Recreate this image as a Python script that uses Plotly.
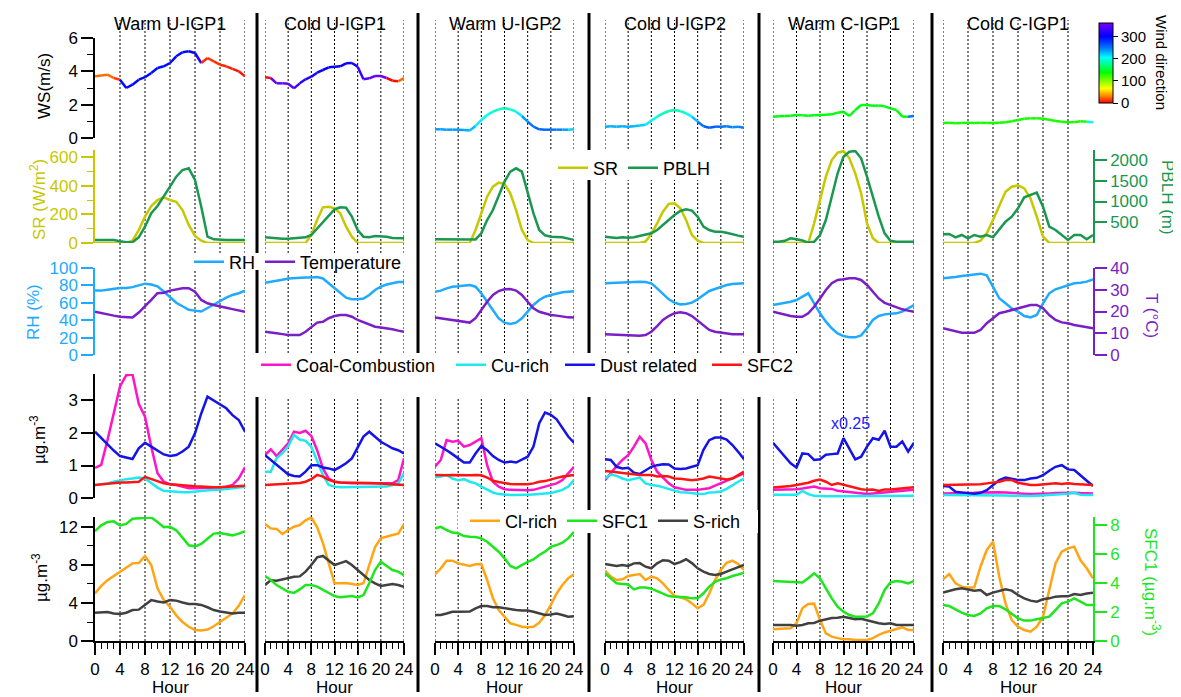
import plotly.graph_objects as go

# The page is photographed in a 1181x697 window; the figure div sits 8px in
# from the top-left (default body margin), so it is sized to fill the rest.
WIN_W, WIN_H, OFF = 1181, 697, 8
W, H = WIN_W - OFF, WIN_H - OFF

# ---------------- data ----------------
hours = list(range(25))
regions = ["Warm U-IGP1", "Cold U-IGP1", "Warm U-IGP2", "Cold U-IGP2", "Warm C-IGP1", "Cold C-IGP1"]
x_ticks = [0, 4, 8, 12, 16, 20, 24]

ws = [
    [3.7, 3.75, 3.8, 3.6, 3.5, 3.0, 3.2, 3.5, 3.65, 3.9, 4.2, 4.3, 4.5, 4.9, 5.15, 5.2, 5.1, 4.5, 4.8, 4.6, 4.4, 4.3, 4.15, 4.0, 3.7],
    [3.64, 3.6, 3.28, 3.28, 3.25, 2.98, 3.28, 3.52, 3.68, 3.92, 4.08, 4.24, 4.28, 4.3, 4.48, 4.5, 4.28, 3.52, 3.58, 3.72, 3.72, 3.6, 3.44, 3.4, 3.6],
    [0.52, 0.52, 0.5, 0.5, 0.5, 0.48, 0.45, 0.72, 1.08, 1.38, 1.58, 1.72, 1.78, 1.72, 1.58, 1.32, 0.98, 0.68, 0.52, 0.5, 0.5, 0.5, 0.5, 0.5, 0.52],
    [0.68, 0.7, 0.68, 0.7, 0.68, 0.7, 0.75, 0.8, 1.04, 1.28, 1.48, 1.62, 1.68, 1.62, 1.48, 1.28, 0.98, 0.7, 0.62, 0.68, 0.68, 0.7, 0.64, 0.68, 0.62],
    [1.28, 1.3, 1.32, 1.33, 1.38, 1.36, 1.33, 1.36, 1.38, 1.4, 1.42, 1.52, 1.58, 1.32, 1.68, 1.98, 1.98, 1.93, 1.95, 1.9, 1.78, 1.68, 1.28, 1.28, 1.32],
    [0.9, 0.92, 0.88, 0.9, 0.92, 0.9, 0.92, 0.9, 0.9, 0.92, 0.95, 1.0, 1.08, 1.15, 1.18, 1.18, 1.15, 1.1, 1.02, 0.98, 0.95, 0.95, 1.0, 0.98, 0.95],
]
wdir = [
    [25, 25, 25, 15, 295, 295, 295, 295, 295, 295, 295, 295, 295, 295, 295, 300, 315, 10, 12, 12, 10, 8, 5, 5, 5],
    [3, 350, 350, 350, 345, 330, 320, 315, 310, 305, 300, 300, 300, 300, 305, 310, 330, 345, 350, 350, 352, 0, 2, 25, 25],
    [235, 235, 235, 235, 235, 230, 225, 210, 200, 195, 190, 190, 190, 195, 210, 235, 250, 255, 255, 255, 250, 245, 235, 220, 205],
    [230, 230, 230, 230, 230, 225, 220, 210, 200, 190, 185, 185, 185, 190, 200, 225, 250, 260, 260, 255, 250, 245, 240, 245, 250],
    [140, 140, 140, 140, 140, 140, 140, 140, 140, 140, 140, 140, 140, 140, 140, 140, 140, 140, 140, 140, 140, 140, 140, 250, 250],
    [130, 130, 130, 130, 130, 130, 130, 130, 130, 130, 130, 130, 130, 130, 130, 130, 130, 130, 130, 130, 130, 130, 130, 200, 200],
]
sr = [
    [0, 0, 0, 0, 0, 0, 16, 90, 184, 258, 300, 319, 300, 288, 230, 126, 49, 16, 0, 0, 0, 0, 0, 0, 0],
    [0, 0, 0, 0, 0, 0, 0, 0, 56, 160, 249, 253, 242, 207, 114, 44, 0, 0, 0, 0, 0, 0, 0, 0, 0],
    [0, 0, 0, 0, 0, 0, 0, 91, 207, 323, 393, 421, 412, 347, 230, 91, 21, 0, 0, 0, 0, 0, 0, 0, 0],
    [0, 0, 0, 0, 0, 0, 0, 10, 63, 137, 218, 272, 277, 242, 160, 56, 16, 0, 0, 0, 0, 0, 0, 0, 0],
    [0, 0, 0, 0, 0, 0, 0, 137, 300, 463, 579, 630, 642, 591, 486, 347, 137, 33, 0, 0, 0, 0, 0, 0, 0],
    [0, 0, 0, 0, 0, 0, 16, 67, 160, 265, 358, 393, 402, 381, 312, 184, 44, 0, 0, 0, 0, 0, 0, 0, 0],
]
pblh = [
    [72, 72, 72, 72, 40, 20, 20, 137, 393, 716, 892, 1116, 1357, 1598, 1759, 1800, 1518, 875, 152, 89, 72, 72, 72, 72, 72],
    [137, 125, 100, 100, 105, 110, 115, 137, 193, 354, 514, 675, 812, 860, 848, 634, 313, 152, 137, 169, 169, 152, 121, 113, 113],
    [89, 89, 85, 80, 80, 75, 72, 85, 233, 554, 795, 1116, 1478, 1719, 1800, 1719, 1197, 716, 313, 185, 152, 152, 137, 105, 72],
    [152, 140, 121, 137, 125, 137, 169, 185, 233, 313, 434, 554, 675, 771, 812, 780, 634, 393, 313, 273, 273, 249, 209, 177, 152],
    [31, 31, 53, 113, 90, 60, 10, 31, 193, 554, 1116, 1679, 2080, 2200, 2217, 2041, 1598, 1116, 634, 233, 53, 31, 31, 31, 31],
    [209, 217, 137, 193, 113, 193, 152, 193, 137, 313, 514, 634, 836, 1101, 1157, 1213, 875, 393, 313, 193, 72, 193, 193, 89, 193],
]
rh = [
    [74, 74, 75, 76, 77, 77, 78, 80, 82, 81, 79, 73, 67, 60, 56, 52, 51, 50, 54, 58, 62, 66, 69, 71, 74],
    [83, 84, 85.4, 86.5, 88, 88.5, 89, 89, 89, 89.6, 88, 82.4, 76.6, 70.9, 65.9, 64, 64, 65, 69, 74.7, 78.5, 81, 82.4, 84, 84],
    [72.8, 74, 76.6, 78.5, 79, 79.5, 80.5, 78.5, 70.9, 61.3, 51.7, 42.1, 37.2, 35.6, 37.2, 42.1, 49.8, 57.5, 63.2, 67, 69, 70.9, 72, 72.6, 73.3],
    [82.4, 82.8, 83.2, 83.8, 84.3, 84.3, 84.3, 84, 82.4, 76.6, 70.1, 64, 60.2, 58.2, 58.6, 60.2, 64, 69, 73.6, 75.9, 78.5, 80.5, 81.6, 82.4, 82.4],
    [57.5, 58.6, 60.2, 61.3, 63.2, 67, 70.9, 59.4, 47.9, 38.3, 30.7, 24.9, 21.8, 20.3, 20.3, 22.6, 30.7, 40.2, 44.8, 46.7, 47.1, 47.9, 49.8, 53.6, 57.5],
    [88.1, 89.3, 89.7, 90.8, 91.6, 92.7, 93.5, 91.6, 78.5, 65.2, 59.4, 53.6, 49.8, 44.8, 43.3, 46, 59.4, 70.9, 75.5, 77.8, 80.5, 82.4, 83.1, 84.3, 87],
]
temp = [
    [19.9, 19.2, 18.6, 18.1, 17.6, 17.3, 17.2, 19.5, 22.2, 25.3, 28.4, 28.6, 29.6, 30.2, 30.7, 30.7, 29.1, 25.3, 23.8, 23, 22.2, 21.7, 21.1, 20.4, 19.9],
    [10.7, 10.5, 10, 9.6, 9.2, 9.2, 9.2, 10.7, 13, 14.9, 15.3, 16.9, 17.9, 18.4, 18.4, 17.6, 16.1, 15, 13.8, 13, 12.6, 12.3, 11.8, 11.2, 10.7],
    [17.2, 16.8, 16.4, 16.1, 15.8, 15.3, 14.9, 16.9, 20.7, 24.5, 27.6, 29.4, 30.2, 30.3, 29.6, 27.6, 24.5, 21.5, 19.9, 19.2, 18.4, 18.1, 17.6, 17.3, 17.2],
    [9.5, 9.4, 9.2, 9.0, 8.9, 8.9, 8.9, 9.2, 10.7, 13.3, 16.1, 17.9, 19.2, 19.6, 19.2, 17.9, 15.8, 13.3, 11.5, 10.7, 10.2, 9.8, 9.5, 9.5, 9.5],
    [19.9, 19.2, 18.4, 17.9, 17.6, 17.6, 19.2, 22.2, 26, 29.9, 33, 34.5, 34.8, 35.3, 35.3, 34.5, 32.2, 29.1, 26, 24, 23, 21.9, 21, 20.4, 19.9],
    [12.3, 11.5, 10.7, 10.2, 10.2, 10.2, 11.5, 14.6, 16.9, 19.2, 19.9, 20.7, 21.5, 22.5, 23, 23, 21.5, 18.4, 16.1, 15, 14.6, 13.8, 13.3, 12.7, 12.3],
]
coal = [
    [0.93, 1.02, 1.78, 2.6, 3.43, 3.78, 3.8, 2.9, 2.5, 1.58, 0.76, 0.5, 0.42, 0.4, 0.35, 0.3, 0.3, 0.3, 0.3, 0.3, 0.32, 0.35, 0.4, 0.6, 0.95],
    [1.32, 1.5, 1.29, 1.47, 1.68, 2.04, 2.0, 2.07, 1.91, 1.47, 0.91, 0.6, 0.5, 0.48, 0.46, 0.45, 0.45, 0.45, 0.45, 0.44, 0.44, 0.44, 0.45, 0.55, 1.22],
    [0.96, 1.17, 1.78, 1.73, 1.76, 1.58, 1.63, 1.73, 1.84, 1.01, 0.5, 0.35, 0.27, 0.25, 0.24, 0.24, 0.24, 0.25, 0.3, 0.35, 0.4, 0.45, 0.55, 0.76, 0.96],
    [0.55, 0.78, 0.98, 1.17, 1.32, 1.58, 1.89, 1.68, 1.17, 0.81, 0.63, 0.45, 0.33, 0.28, 0.25, 0.25, 0.25, 0.28, 0.3, 0.38, 0.45, 0.53, 0.6, 0.68, 0.76],
    [0.25, 0.25, 0.25, 0.26, 0.27, 0.29, 0.32, 0.35, 0.3, 0.28, 0.28, 0.22, 0.2, 0.16, 0.14, 0.13, 0.12, 0.14, 0.16, 0.18, 0.2, 0.21, 0.23, 0.24, 0.25],
    [0.14, 0.14, 0.14, 0.14, 0.15, 0.16, 0.17, 0.18, 0.19, 0.18, 0.17, 0.15, 0.13, 0.13, 0.12, 0.12, 0.13, 0.14, 0.15, 0.16, 0.17, 0.16, 0.15, 0.14, 0.14],
]
cu = [
    [0.4, 0.42, 0.45, 0.5, 0.55, 0.58, 0.6, 0.63, 0.6, 0.45, 0.32, 0.22, 0.2, 0.18, 0.18, 0.18, 0.2, 0.22, 0.22, 0.25, 0.25, 0.28, 0.3, 0.32, 0.35],
    [0.81, 0.81, 1.22, 1.38, 1.58, 1.94, 1.8, 1.76, 1.58, 1.17, 0.71, 0.4, 0.35, 0.33, 0.33, 0.33, 0.33, 0.33, 0.33, 0.33, 0.33, 0.35, 0.4, 0.45, 0.76],
    [0.64, 0.66, 0.71, 0.6, 0.55, 0.58, 0.5, 0.45, 0.35, 0.25, 0.17, 0.12, 0.1, 0.09, 0.09, 0.09, 0.1, 0.11, 0.12, 0.13, 0.15, 0.2, 0.25, 0.35, 0.55],
    [0.6, 0.72, 0.68, 0.6, 0.55, 0.58, 0.63, 0.45, 0.4, 0.38, 0.33, 0.28, 0.23, 0.18, 0.17, 0.14, 0.13, 0.12, 0.17, 0.18, 0.2, 0.28, 0.4, 0.5, 0.6],
    [0.1, 0.1, 0.1, 0.1, 0.1, 0.22, 0.12, 0.07, 0.05, 0.05, 0.05, 0.05, 0.05, 0.05, 0.05, 0.05, 0.05, 0.05, 0.05, 0.06, 0.06, 0.06, 0.07, 0.07, 0.07],
    [0.09, 0.09, 0.09, 0.09, 0.09, 0.09, 0.1, 0.1, 0.1, 0.09, 0.08, 0.07, 0.06, 0.06, 0.06, 0.07, 0.08, 0.09, 0.1, 0.11, 0.13, 0.16, 0.1, 0.09, 0.09],
]
# Warm C-IGP1 dust values are shown scaled x0.25 (as in the figure)
dust = [
    [2.04, 1.84, 1.66, 1.46, 1.29, 1.25, 1.2, 1.53, 1.7, 1.58, 1.45, 1.34, 1.29, 1.32, 1.43, 1.58, 1.99, 2.6, 3.12, 3.0, 2.86, 2.76, 2.55, 2.4, 2.04],
    [1.32, 1.17, 1.01, 0.86, 0.73, 0.68, 0.66, 0.81, 1.01, 1.01, 0.94, 0.91, 0.86, 0.96, 1.07, 1.22, 1.58, 1.89, 2.04, 1.89, 1.73, 1.63, 1.53, 1.47, 1.37],
    [1.68, 1.58, 1.47, 1.35, 1.22, 1.09, 1.09, 1.37, 1.6, 1.47, 1.29, 1.17, 1.09, 1.12, 1.09, 1.17, 1.27, 1.58, 2.3, 2.63, 2.56, 2.42, 2.14, 1.89, 1.7],
    [1.19, 1.17, 0.96, 0.91, 0.93, 0.78, 0.74, 0.84, 0.96, 1.01, 1.04, 1.03, 0.91, 0.89, 0.91, 0.96, 1.01, 1.48, 1.78, 1.86, 1.86, 1.8, 1.63, 1.42, 1.19],
    [1.7, 1.5, 1.27, 1.07, 0.94, 1.37, 1.35, 1.17, 1.19, 1.33, 1.35, 1.37, 1.84, 1.53, 1.19, 1.27, 1.58, 1.84, 1.79, 2.07, 1.58, 1.58, 1.74, 1.43, 1.7],
    [0.37, 0.35, 0.19, 0.16, 0.15, 0.13, 0.16, 0.24, 0.4, 0.55, 0.63, 0.6, 0.55, 0.55, 0.6, 0.62, 0.7, 0.84, 0.96, 1.01, 0.88, 0.86, 0.68, 0.53, 0.37],
]
sfc2 = [
    [0.4, 0.42, 0.45, 0.46, 0.48, 0.48, 0.5, 0.5, 0.65, 0.58, 0.5, 0.45, 0.42, 0.4, 0.38, 0.37, 0.36, 0.35, 0.33, 0.33, 0.33, 0.34, 0.35, 0.36, 0.38],
    [0.4, 0.41, 0.42, 0.43, 0.45, 0.45, 0.46, 0.5, 0.58, 0.71, 0.66, 0.56, 0.5, 0.48, 0.48, 0.47, 0.47, 0.46, 0.46, 0.45, 0.44, 0.43, 0.42, 0.4, 0.4],
    [0.71, 0.7, 0.7, 0.71, 0.7, 0.69, 0.7, 0.71, 0.7, 0.63, 0.53, 0.49, 0.45, 0.43, 0.42, 0.42, 0.42, 0.45, 0.5, 0.52, 0.58, 0.62, 0.66, 0.69, 0.71],
    [0.83, 0.82, 0.79, 0.77, 0.74, 0.73, 0.71, 0.7, 0.71, 0.66, 0.68, 0.66, 0.6, 0.59, 0.57, 0.55, 0.57, 0.6, 0.66, 0.63, 0.6, 0.57, 0.6, 0.7, 0.81],
    [0.32, 0.33, 0.35, 0.37, 0.4, 0.43, 0.47, 0.53, 0.57, 0.5, 0.4, 0.45, 0.4, 0.35, 0.3, 0.27, 0.25, 0.26, 0.22, 0.26, 0.26, 0.28, 0.29, 0.3, 0.33],
    [0.4, 0.4, 0.4, 0.41, 0.42, 0.42, 0.42, 0.45, 0.47, 0.5, 0.55, 0.55, 0.47, 0.43, 0.4, 0.4, 0.42, 0.42, 0.45, 0.43, 0.45, 0.43, 0.42, 0.4, 0.4],
]
cl = [
    [5.0, 5.8, 6.4, 6.84, 7.3, 7.75, 8.17, 8.2, 8.95, 8.0, 5.55, 4.3, 3.6, 2.7, 2.0, 1.5, 1.16, 1.1, 1.2, 1.55, 2.0, 2.4, 2.9, 3.7, 4.84],
    [12.3, 11.85, 11.8, 11.26, 11.68, 12.03, 12.2, 12.7, 13.0, 12.0, 10.3, 8.2, 6.07, 6.07, 6.1, 6.0, 5.9, 6.07, 8.0, 9.9, 10.8, 11.0, 11.16, 11.3, 12.3],
    [7.02, 7.65, 8.45, 8.45, 8.17, 8.0, 7.9, 8.07, 8.1, 6.42, 4.5, 3.26, 2.56, 1.86, 1.7, 1.5, 1.45, 1.5, 1.93, 2.74, 3.8, 5.0, 5.9, 6.6, 7.02],
    [7.4, 6.77, 6.42, 6.5, 6.84, 6.95, 7.05, 6.42, 6.77, 6.6, 6.07, 5.37, 4.74, 4.6, 4.4, 3.96, 3.44, 3.8, 5.0, 6.42, 7.47, 8.24, 8.45, 8.1, 7.47],
    [1.23, 1.3, 1.32, 1.35, 1.86, 3.44, 3.9, 3.93, 2.2, 0.8, 0.46, 0.3, 0.18, 0.18, 0.1, 0.1, 0.1, 0.3, 0.65, 0.9, 1.1, 1.25, 1.45, 1.17, 1.17],
    [6.49, 7.05, 6.07, 5.72, 5.6, 5.65, 7.82, 9.58, 10.45, 6.77, 3.96, 2.2, 1.5, 1.16, 0.98, 1.5, 2.56, 5.37, 8.17, 9.4, 9.75, 9.93, 8.5, 7.65, 6.6],
]
sfc1 = [
    [7.6, 8.0, 8.23, 8.28, 8.0, 8.1, 8.46, 8.5, 8.55, 8.55, 8.23, 7.88, 7.9, 7.66, 7.15, 6.62, 6.55, 6.71, 7.08, 7.43, 7.47, 7.38, 7.31, 7.43, 7.6],
    [4.5, 4.22, 3.87, 3.64, 3.41, 3.33, 3.57, 3.87, 3.87, 3.76, 3.53, 3.3, 3.11, 3.02, 3.06, 3.11, 3.02, 3.18, 3.99, 4.91, 5.48, 5.18, 4.91, 4.8, 4.56],
    [7.79, 7.9, 7.68, 7.5, 7.45, 7.26, 7.22, 7.2, 7.1, 6.87, 6.52, 6.18, 5.72, 5.19, 5.03, 5.26, 5.48, 5.64, 5.95, 6.18, 6.52, 6.64, 6.8, 7.1, 7.56],
    [4.68, 4.34, 3.99, 3.95, 3.91, 3.57, 3.7, 3.7, 3.62, 3.45, 3.3, 3.11, 3.06, 3.06, 3.02, 2.95, 2.95, 3.3, 3.76, 4.1, 4.26, 4.34, 4.5, 4.6, 4.72],
    [4.15, 4.13, 4.12, 4.1, 4.1, 4.05, 4.34, 4.68, 4.34, 3.64, 2.95, 2.37, 2.03, 1.8, 1.68, 1.68, 1.7, 1.91, 2.6, 3.53, 4.06, 4.15, 4.1, 3.99, 4.15],
    [2.49, 2.42, 2.19, 1.96, 1.8, 1.73, 1.91, 2.26, 2.42, 2.42, 2.19, 1.91, 1.57, 1.41, 1.41, 1.5, 1.57, 1.68, 2.14, 2.61, 2.72, 2.95, 2.72, 2.49, 2.49],
]
srich = [
    [2.98, 2.98, 3.05, 2.9, 2.85, 2.98, 3.26, 3.3, 3.8, 4.3, 4.15, 4.05, 4.3, 4.25, 4.05, 3.9, 3.9, 3.8, 3.55, 3.26, 3.1, 2.98, 2.9, 2.98, 2.98],
    [5.9, 6.4, 6.35, 6.5, 6.6, 6.77, 6.8, 7.3, 8.0, 8.8, 8.95, 8.5, 8.0, 8.2, 8.4, 8.0, 7.47, 6.95, 6.42, 6.07, 5.8, 5.9, 6.0, 5.9, 5.7],
    [2.74, 2.74, 2.9, 3.08, 3.08, 3.08, 3.1, 3.44, 3.68, 3.68, 3.55, 3.55, 3.44, 3.35, 3.26, 3.2, 3.2, 3.08, 2.9, 2.74, 2.8, 2.9, 2.74, 2.56, 2.6],
    [8.1, 8.0, 7.9, 8.0, 7.9, 8.17, 8.2, 7.82, 7.65, 8.17, 8.5, 8.45, 8.1, 8.3, 8.6, 8.2, 7.65, 7.3, 7.05, 6.95, 7.05, 7.3, 7.55, 7.75, 8.0],
    [1.68, 1.68, 1.68, 1.68, 1.6, 1.68, 1.86, 1.9, 2.14, 2.28, 2.42, 2.45, 2.56, 2.42, 2.28, 2.35, 2.2, 2.03, 1.86, 1.8, 1.86, 1.68, 1.68, 1.68, 1.68],
    [5.09, 5.3, 5.44, 5.54, 5.44, 5.3, 5.37, 4.84, 5.09, 5.3, 5.44, 5.3, 4.84, 4.49, 4.25, 4.14, 4.39, 4.49, 4.67, 4.7, 4.7, 4.95, 4.84, 5.0, 5.09],
]

# ---------------- styling ----------------
FONT = "Liberation Sans, Arial, sans-serif"
SR_C, PBLH_C, RH_C, T_C = "#c8c800", "#1a9850", "#1eaaff", "#7a1ec8"
COAL_C, CU_C, DUST_C, SFC2_C = "#ff14c8", "#1ee8f0", "#1414e6", "#ff1414"
CL_C, SFC1_C, S_C = "#ffa514", "#1ee61e", "#404040"
LW = 2.5

WD_STOPS = [(0.0, (255, 0, 0)), (0.085, (255, 128, 0)), (0.18, (255, 255, 0)), (0.38, (0, 255, 0)),
            (0.57, (0, 255, 255)), (0.68, (0, 128, 255)), (0.83, (0, 0, 255)), (1.0, (120, 0, 255))]
WD_SCALE = [[s, "rgb(%d,%d,%d)" % c] for s, c in WD_STOPS]


def wd_color(d):
    t = max(0.0, min(1.0, d / 360.0))
    for (s0, c0), (s1, c1) in zip(WD_STOPS[:-1], WD_STOPS[1:]):
        if s0 <= t <= s1:
            f = (t - s0) / (s1 - s0)
            return "rgb(%d,%d,%d)" % tuple(round(a + (b - a) * f) for a, b in zip(c0, c1))
    return "rgb(%d,%d,%d)" % WD_STOPS[-1][1]


# layout positions, in window pixels
COLS = [(95, 245), (265, 404), (435, 574), (605, 744), (773, 914), (943, 1093)]
ROWS = [(38, 138), (150, 243), (268, 355), (374, 498), (517, 641)]


def px(v):
    return (v - OFF) / W


def py(v):
    return 1 - (v - OFF) / H


def ref(prefix, n):
    return prefix if n == 1 else f"{prefix}{n}"


def key(prefix, n):
    return f"{prefix}axis" if n == 1 else f"{prefix}axis{n}"


SEC_ROWS = [1, 2, 4]


def pid(r, c):
    return r * 6 + c + 1


def sid(r, c):
    return 31 + SEC_ROWS.index(r) * 6 + c


fig = go.Figure()


def line(c, r, y, color, nm, legend, secondary=False):
    yid = sid(r, c) if secondary else pid(r, c)
    fig.add_trace(go.Scatter(
        x=hours, y=y, mode="lines", line=dict(color=color, width=LW),
        name=nm, legend=legend, showlegend=(c == 0),
        xaxis=ref("x", c + 1), yaxis=ref("y", yid), hoverinfo="skip"))


for c in range(6):
    # row 1: wind speed coloured by wind direction
    for i in range(24):
        fig.add_trace(go.Scatter(
            x=hours[i:i + 2], y=ws[c][i:i + 2], mode="lines",
            line=dict(color=wd_color(wdir[c][i]), width=LW), showlegend=False,
            xaxis=ref("x", c + 1), yaxis=ref("y", pid(0, c)), hoverinfo="skip"))
    line(c, 1, sr[c], SR_C, "SR", "legend")
    line(c, 1, pblh[c], PBLH_C, "PBLH", "legend", secondary=True)
    line(c, 2, rh[c], RH_C, "RH", "legend2")
    line(c, 2, temp[c], T_C, "Temperature", "legend2", secondary=True)
    line(c, 3, coal[c], COAL_C, "Coal-Combustion", "legend3")
    line(c, 3, cu[c], CU_C, "Cu-rich", "legend5")
    line(c, 3, dust[c], DUST_C, "Dust related", "legend6")
    line(c, 3, sfc2[c], SFC2_C, "SFC2", "legend7")
    line(c, 4, cl[c], CL_C, "Cl-rich", "legend4")
    line(c, 4, sfc1[c], SFC1_C, "SFC1", "legend4", secondary=True)
    line(c, 4, srich[c], S_C, "S-rich", "legend4")

# colour bar carrier (invisible markers)
fig.add_trace(go.Scatter(
    x=hours, y=ws[5], mode="markers", showlegend=False, hoverinfo="skip",
    xaxis="x6", yaxis=ref("y", pid(0, 5)),
    marker=dict(size=0, opacity=0, color=wdir[5], colorscale=WD_SCALE, cmin=0, cmax=360,
                showscale=True,
                colorbar=dict(x=px(1099), xanchor="left", xpad=0, ypad=0,
                              y=py(63), yanchor="middle", len=80, lenmode="pixels",
                              thickness=14, outlinewidth=1, outlinecolor="black",
                              tickvals=[0, 100, 200, 300], ticks="outside", ticklen=5,
                              tickcolor="black", tickfont=dict(size=15, family=FONT)))))

layout = dict(
    width=W, height=H, margin=dict(l=0, r=0, t=0, b=0, autoexpand=False),
    paper_bgcolor="white", plot_bgcolor="rgba(0,0,0,0)",
    font=dict(family=FONT, size=17, color="black"), hovermode=False,
)

# x axes (one per column, drawn at the bottom row)
for c in range(6):
    layout[key("x", c + 1)] = dict(
        domain=[px(COLS[c][0]), px(COLS[c][1])], range=[0, 24],
        anchor=ref("y", pid(4, c)), showgrid=False, zeroline=False,
        showline=True, linecolor="black", linewidth=1.5,
        ticks="outside", ticklen=12, tickwidth=1.5, tickcolor="black",
        tickmode="array", tickvals=x_ticks, tickangle=0,
        tickfont=dict(size=17),
        minor=dict(ticks="outside", ticklen=6, tickwidth=1.2, tickcolor="black", dtick=1, tick0=0),
    )

LEFT = [
    dict(range=[0, 6], tickvals=[0, 2, 4, 6], minor=[1, 3, 5], color="black"),
    dict(range=[0, 648.8], tickvals=[0, 200, 400, 600], minor=[100, 300, 500], color=SR_C),
    dict(range=[0, 100], tickvals=[0, 20, 40, 60, 80, 100], minor=None, color=RH_C),
    dict(range=[0, 3.815], tickvals=[0, 1, 2, 3], minor=None, color="black"),
    dict(range=[0, 13.05], tickvals=[0, 4, 8, 12], minor=[2, 6, 10], color="black"),
]
RIGHT = {
    1: dict(range=[0, 2241], tickvals=[500, 1000, 1500, 2000], color=PBLH_C),
    2: dict(range=[0, 40], tickvals=[0, 10, 20, 30, 40], color=T_C),
    4: dict(range=[0, 8.58], tickvals=[0, 2, 4, 6, 8], color=SFC1_C),
}


def styled(spec, show):
    d = dict(range=spec["range"], showgrid=False, zeroline=False, fixedrange=True)
    if not show:
        d["visible"] = False
        return d
    col = spec["color"]
    d.update(showline=True, linecolor=col, linewidth=1.5, ticks="outside", ticklen=12,
             tickwidth=1.5, tickcolor=col, tickmode="array", tickvals=spec["tickvals"],
             tickfont=dict(size=17, color=col))
    if spec.get("minor"):
        d["minor"] = dict(ticks="outside", ticklen=6, tickwidth=1.2, tickcolor=col,
                          tickmode="array", tickvals=spec["minor"])
    return d


for r in range(5):
    for c in range(6):
        ya = styled(LEFT[r], c == 0)
        ya.update(domain=[py(ROWS[r][1]), py(ROWS[r][0])], anchor=ref("x", c + 1))
        layout[key("y", pid(r, c))] = ya
        if r in RIGHT:
            yb = styled(RIGHT[r], c == 5)
            yb.update(overlaying=ref("y", pid(r, c)), side="right", anchor=ref("x", c + 1))
            layout[key("y", sid(r, c))] = yb

# legends
leg = dict(orientation="h", xanchor="left", yanchor="middle", bgcolor="rgba(0,0,0,0)",
           borderwidth=0, font=dict(size=18, family=FONT), itemwidth=30, tracegroupgap=0)
layout["legend"] = dict(leg, x=px(553), y=py(168))
layout["legend2"] = dict(leg, x=px(189), y=py(262))
layout["legend3"] = dict(leg, x=px(256), y=py(365))
layout["legend5"] = dict(leg, x=px(451), y=py(365))
layout["legend6"] = dict(leg, x=px(560), y=py(365))
layout["legend7"] = dict(leg, x=px(707), y=py(365))
layout["legend4"] = dict(leg, x=px(465), y=py(521))

# decorations: dotted hour lines, column separators, gaps behind legends
shapes = []
for c in range(6):
    for h in x_ticks:
        if (c == 0 and h == 0) or (c == 5 and h == 24):
            continue
        shapes.append(dict(type="line", xref=ref("x", c + 1), yref="paper", x0=h, x1=h,
                           y0=py(641), y1=py(20), layer="below",
                           line=dict(color="black", width=1, dash="2px,2px")))
for xs in [257, 418, 589, 759, 932]:
    shapes.append(dict(type="line", xref="paper", yref="paper", x0=px(xs), x1=px(xs),
                       y0=py(692), y1=py(13), layer="below", line=dict(color="black", width=3)))
for (x0, y0, x1, y1) in [(540, 150, 730, 180), (185, 253, 412, 270), (250, 353, 800, 397), (458, 510, 758, 533)]:
    shapes.append(dict(type="rect", xref="paper", yref="paper", x0=px(x0), x1=px(x1),
                       y0=py(y1), y1=py(y0), layer="below", fillcolor="white", line=dict(width=0)))
layout["shapes"] = shapes

ann = []


def note(x, y, text, size=17, color="black", angle=0):
    ann.append(dict(x=px(x), y=py(y), xref="paper", yref="paper", text=text, showarrow=False,
                    xanchor="center", yanchor="middle", textangle=angle,
                    font=dict(size=size, color=color, family=FONT)))


for c in range(6):
    mid = (COLS[c][0] + COLS[c][1]) / 2
    note(mid, 24, regions[c], size=18)
    note(mid, 687, "Hour", size=17)

note(45, 86, "WS(m/s)", angle=-90)
note(38, 200, "SR (W/m<sup>2</sup>)", color=SR_C, angle=-90)
note(34, 312, "RH (%)", color=RH_C, angle=-90)
note(38, 440, "µg.m<sup>-3</sup>", angle=-90)
note(40, 578, "µg.m<sup>-3</sup>", angle=-90)
note(1167, 197, "PBLH (m)", color=PBLH_C, angle=90)
note(1152, 315, "T (°C)", color=T_C, angle=90)
note(1152, 582, "SFC1 (µg.m<sup>-3</sup>)", color=SFC1_C, angle=90)
note(1162, 62, "Wind direction", size=15, angle=90)
note(850, 423, "x0.25", size=16, color="#2020ff")
layout["annotations"] = ann

fig.update_layout(**layout)
fig.write_html("out.html")
